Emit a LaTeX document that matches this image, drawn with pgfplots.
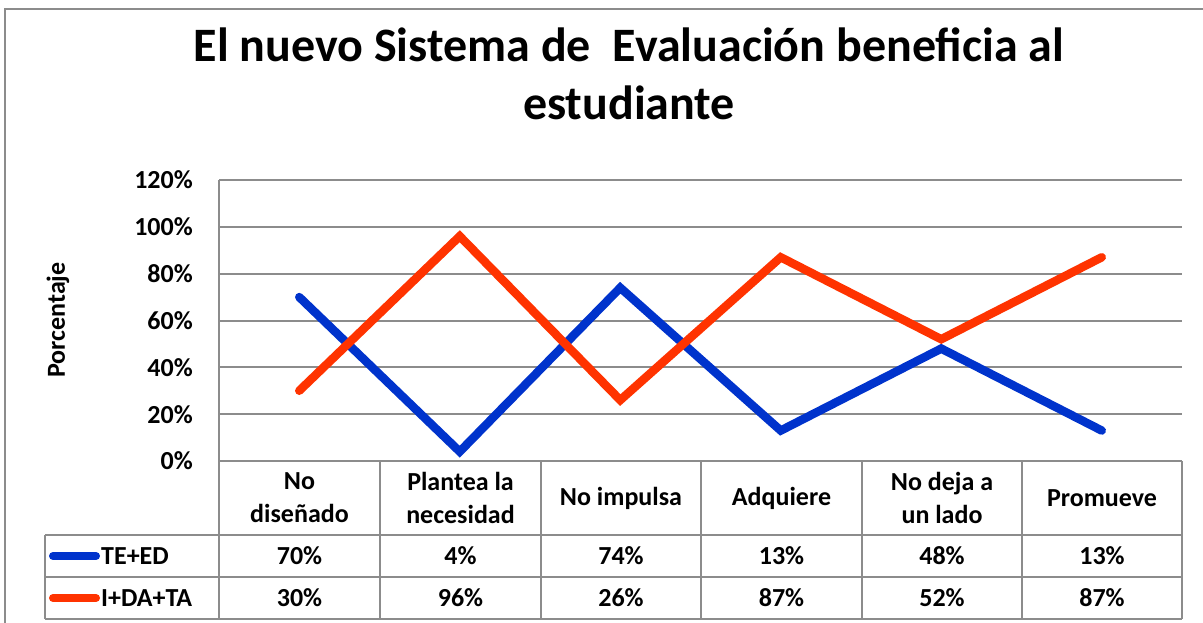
\documentclass[border=0pt]{standalone}
\usepackage{pgfplots}
\pgfplotsset{compat=1.18}
\usepackage{fontspec}
\setmainfont{Carlito}
\definecolor{tblue}{HTML}{0033CC}
\definecolor{tred}{HTML}{FF3300}
\definecolor{gline}{HTML}{8C8C8C}
\begin{document}
\begin{tikzpicture}[x=1pt,y=1pt]
\useasboundingbox (0,0) rectangle (1203,-623);
\draw[gline, line width=2] (5,-623) -- (5,-9) -- (1203,-9);
\node[font=\fontsize{48}{58}\selectfont\bfseries, align=center] at (629,-74) {El nuevo Sistema de \ Evaluación beneficia al\\estudiante};
\node[font=\fontsize{26}{31}\selectfont\bfseries, rotate=90] at (58,-320) {Porcentaje};
\begin{axis}[
  at={(219pt,-461pt)}, anchor=south west,
  scale only axis, width=963pt, height=281pt,
  xmin=-0.5, xmax=5.5, ymin=0, ymax=120,
  xtick=\empty,
  ytick={0,20,40,60,80,100,120},
  yticklabels={0\%,20\%,40\%,60\%,80\%,100\%,120\%},
  yticklabel style={font=\fontsize{26}{31}\selectfont\bfseries, inner sep=0pt, xshift=-26pt},
  major tick length=0pt,
  axis x line=bottom, axis y line=left,
  axis line style={-, gline, line width=2pt},
  ymajorgrids, major grid style={gline, line width=2pt},
  clip=false,
]
\addplot[tblue, line width=8.5pt, line cap=round, line join=miter] coordinates {(0,70) (1,4) (2,74) (3,13) (4,48) (5,13)};
\addplot[tred, line width=8.5pt, line cap=round, line join=miter] coordinates {(0,30) (1,96) (2,26) (3,87) (4,52) (5,87)};
\end{axis}
% table
\begin{scope}[gline, line width=2]
\foreach \x in {219,380,541,701,862,1022,1182} \draw (\x,-461) -- (\x,-619);
\draw (219,-461) -- (1182,-461);
\draw (45,-535) -- (45,-619);
\foreach \y in {-535,-577,-619} \draw (45,\y) -- (1182,\y);
\end{scope}
\begin{scope}[every node/.style={font=\fontsize{26}{33}\selectfont\bfseries, align=center}]
\node at (299.5,-498) {No\\diseñado};
\node at (460.5,-498) {Plantea la\\necesidad};
\node at (621,-498) {No impulsa};
\node at (781.5,-498) {Adquiere};
\node at (942,-498) {No deja a\\un lado};
\node at (1102,-498) {Promueve};
\node at (299.5,-556) {70\%};
\node at (460.5,-556) {4\%};
\node at (621,-556) {74\%};
\node at (781.5,-556) {13\%};
\node at (942,-556) {48\%};
\node at (1102,-556) {13\%};
\node at (299.5,-598) {30\%};
\node at (460.5,-598) {96\%};
\node at (621,-598) {26\%};
\node at (781.5,-598) {87\%};
\node at (942,-598) {52\%};
\node at (1102,-598) {87\%};
\node[anchor=west, inner sep=0pt] at (101,-556) {TE+ED};
\node[anchor=west, inner sep=0pt] at (101,-598) {I+DA+TA};
\end{scope}
\draw[tblue, line width=8, line cap=round] (53,-556) -- (96,-556);
\draw[tred, line width=8, line cap=round] (53,-598) -- (96,-598);
\end{tikzpicture}
\end{document}
